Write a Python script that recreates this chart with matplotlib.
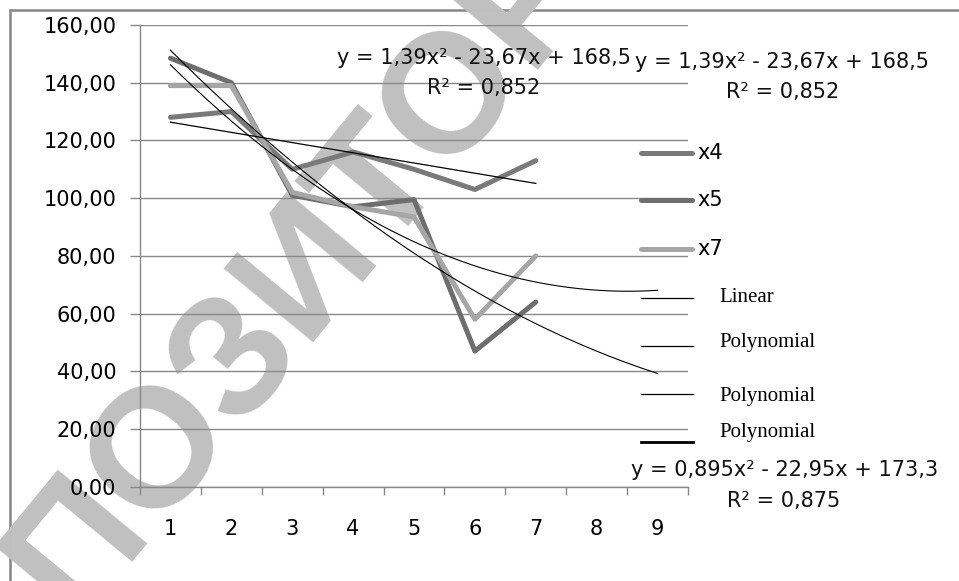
import numpy as np
import matplotlib.pyplot as plt
from matplotlib.lines import Line2D
from matplotlib.patches import Rectangle

W, H = 959, 581

# data
categories = [1, 2, 3, 4, 5, 6, 7, 8, 9]
x_points = [1, 2, 3, 4, 5, 6, 7]
x4 = [128, 130, 110, 116, 110, 103, 113]
x5 = [148.5, 140, 101, 97, 99.5, 47, 64]
x7 = [139, 139, 102, 97, 93.5, 58, 80]

# trend line coefficients shown on the chart
poly_a = [1.39, -23.67, 168.5]
poly_b = [0.895, -22.95, 173.3]
r2_a = "0,852"
r2_b = "0,875"

yticks = [0, 20, 40, 60, 80, 100, 120, 140, 160]

GRID = '#898989'


def px(x, y):
    return x / W, 1 - y / H


def eq_text(c):
    f = lambda v: f"{abs(v):g}".replace('.', ',')
    return f"y = {f(c[0])}x² - {f(c[1])}x + {f(c[2])}"


def main():
    fig = plt.figure(figsize=(W / 100, H / 100), dpi=100)
    fig.patch.set_facecolor('white')

    # outer chart frame (runs off the right and bottom edges)
    fig.patches.append(Rectangle(px(10, 600), (970 - 10) / W, (600 - 10) / H,
                                 transform=fig.transFigure, fill=False,
                                 edgecolor='#858585', linewidth=1.8, zorder=-2))

    # watermark
    wx, wy = px(308, 266)
    fig.text(wx, wy, "РЕПОЗИТОРИЙ", fontsize=122, color='#c0c0c0',
             rotation=50.5, rotation_mode='anchor', ha='center', va='center',
             family='Liberation Sans', fontweight='bold', zorder=-1)

    ax = fig.add_axes([140 / W, (H - 486.7) / H, (688 - 140) / W, (486.7 - 25) / H])
    ax.set_facecolor('none')
    ax.set_xlim(0.5, 9.5)
    ax.set_ylim(0, 160)

    for s in ['top', 'right']:
        ax.spines[s].set_visible(False)
    for s in ['left', 'bottom']:
        ax.spines[s].set_color(GRID)
        ax.spines[s].set_linewidth(1.0)

    ax.set_yticks(yticks)
    ax.set_yticklabels([f"{v:.2f}".replace('.', ',') for v in yticks],
                       fontsize=15, family='DejaVu Sans')
    ax.tick_params(axis='y', length=7, width=1.0, color=GRID, pad=10)
    ax.grid(axis='y', color=GRID, linewidth=1.0)
    ax.set_axisbelow(True)

    ax.set_xticks(np.arange(0.5, 10, 1.0))
    ax.set_xticklabels([])
    ax.set_xticks(categories, minor=True)
    ax.set_xticklabels([str(c) for c in categories], minor=True,
                       fontsize=15, family='DejaVu Sans')
    ax.tick_params(axis='x', which='major', length=5.5, width=1.0, color=GRID)
    ax.tick_params(axis='x', which='minor', length=0, pad=23)

    kw = dict(linewidth=3.6, solid_capstyle='round', solid_joinstyle='round')
    ax.plot(x_points, x4, color='#7a7a7a', **kw)
    ax.plot(x_points, x5, color='#6e6e6e', **kw)
    ax.plot(x_points, x7, color='#a6a6a6', **kw)

    # trend lines
    lin = np.polyfit(x_points, x4, 1)
    xl = np.array([x_points[0], x_points[-1]])
    ax.plot(xl, np.polyval(lin, xl), color='black', linewidth=0.9)
    xc = np.linspace(1, 9, 200)
    ax.plot(xc, np.polyval(poly_a, xc), color='black', linewidth=0.8)
    ax.plot(xc, np.polyval(poly_b, xc), color='black', linewidth=0.8)

    # equation labels
    tk = dict(fontsize=15, family='DejaVu Sans', ha='center', va='center', color='#111111')
    fig.text(*px(484, 58), eq_text(poly_a), **tk)
    fig.text(*px(484, 88), f"R² = {r2_a}", **tk)
    fig.text(*px(782, 62), eq_text(poly_a), **tk)
    fig.text(*px(783, 92), f"R² = {r2_a}", **tk)
    fig.text(*px(785, 470), eq_text(poly_b), **tk)
    fig.text(*px(784, 501), f"R² = {r2_b}", **tk)

    # legend
    series_leg = [("x4", '#7a7a7a', 153), ("x5", '#6e6e6e', 200), ("x7", '#a6a6a6', 249)]
    for name, col, y in series_leg:
        x0, yy = px(641, y)
        x1, _ = px(692, y)
        fig.add_artist(Line2D([x0, x1], [yy, yy], color=col, linewidth=3.6,
                              solid_capstyle='round', transform=fig.transFigure))
        fig.text(*px(697, y), name, fontsize=15, family='DejaVu Sans',
                 ha='left', va='center')

    trend_leg = [("Linear", 298, 297, 0.9), ("Polynomial", 346, 343, 0.9),
                 ("Polynomial", 394, 396, 0.9), ("Polynomial", 442, 433, 2.0)]
    for name, yl, yt, lw in trend_leg:
        x0, yy = px(641, yl)
        x1, _ = px(693, yl)
        fig.add_artist(Line2D([x0, x1], [yy, yy], color='black', linewidth=lw,
                              transform=fig.transFigure))
        fig.text(*px(719, yt), name, fontsize=15, family='Liberation Serif',
                 ha='left', va='center')

    fig.savefig('out.png', dpi=100)


if __name__ == "__main__":
    main()
